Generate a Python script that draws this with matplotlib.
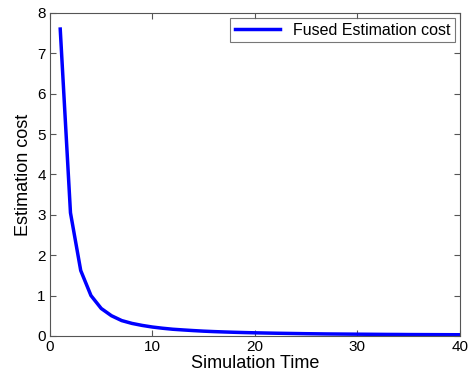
import matplotlib
matplotlib.use("Agg")
import matplotlib.pyplot as plt

plt.rcParams['font.family'] = ['Liberation Sans', 'DejaVu Sans']

sim_time = list(range(1, 41))
est_cost = [7.6, 3.05, 1.62, 1.0, 0.68, 0.5, 0.38, 0.31, 0.26, 0.22,
            0.19, 0.165, 0.148, 0.132, 0.118, 0.107, 0.098, 0.09, 0.083, 0.077,
            0.072, 0.067, 0.063, 0.059, 0.055, 0.052, 0.049, 0.047, 0.045, 0.043,
            0.041, 0.039, 0.037, 0.036, 0.034, 0.033, 0.032, 0.031, 0.03, 0.029]
x_ticks = [0, 10, 20, 30, 40]
y_ticks = [0, 1, 2, 3, 4, 5, 6, 7, 8]

fig = plt.figure(figsize=(4.76, 3.80), dpi=100)
ax = fig.add_axes([0.105, 0.116, 0.861, 0.85])
ax.plot(sim_time, est_cost, color='#0000ff', lw=2.5, label='Fused Estimation cost')
ax.set_xlim(0, 40)
ax.set_ylim(0, 8)
ax.set_xticks(x_ticks)
ax.set_yticks(y_ticks)
ax.tick_params(direction='in', top=True, right=True, labelsize=11, length=4, color='#555555', pad=3)
for s in ax.spines.values():
    s.set_color('#555555')
    s.set_linewidth(0.8)
ax.set_xlabel('Simulation Time', fontsize=13, labelpad=1)
ax.set_ylabel('Estimation cost', fontsize=13, labelpad=4)
leg = ax.legend(loc='upper right', fontsize=11.5, frameon=True, fancybox=False,
                borderaxespad=0.3, handlelength=2.8, borderpad=0.3)
leg.get_frame().set_edgecolor('#555555')
leg.get_frame().set_linewidth(0.8)
fig.savefig('out.png', dpi=100)
